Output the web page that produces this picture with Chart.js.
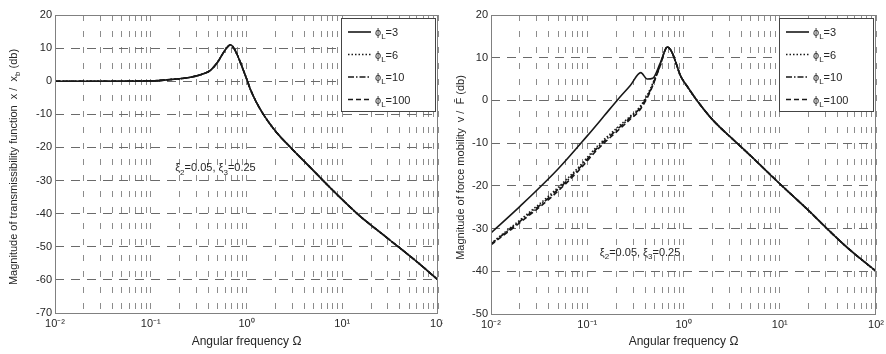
<!DOCTYPE html>
<html>
<head>
<meta charset="utf-8">
<script src="https://cdn.jsdelivr.net/npm/chart.js@4.4.1/dist/chart.umd.min.js"></script>
<style>
    html, body { margin: 0; padding: 0; background: #fff; }
    #wrap { position: relative; width: 886px; height: 354px; overflow: hidden; }
    canvas { position: absolute; top: 0; }
    #left_chart { left: 0; }
    #right_chart { left: 443px; }
</style>
</head>
<body>
<div id="wrap">
    <canvas id="left_chart" width="443" height="354"></canvas>
    <canvas id="right_chart" width="443" height="354"></canvas>
</div>
<script>
// ############################### DATA ###############################

var phiValues = [3, 6, 10, 100];

var decadeTicks = [0.01, 0.1, 1, 10, 100];
var decadeLabels = ['10\u207B\u00B2', '10\u207B\u00B9', '10\u2070', '10\u00B9', '10\u00B2'];

var transTicks = [20, 10, 0, -10, -20, -30, -40, -50, -60, -70];
var mobTicks = [20, 10, 0, -10, -20, -30, -40, -50];

// transmissibility: the four phi_L curves lie on top of each other
var transOmega = [0.01, 0.03, 0.1, 0.16, 0.26, 0.35, 0.42, 0.5, 0.57, 0.64, 0.68, 0.73, 0.8, 0.9, 1.0, 1.1, 1.25, 1.5, 2.0, 3.0, 5, 8, 15, 30, 60, 100];
var transDb = [0, 0, 0.1, 0.5, 1.2, 2.2, 3.3, 5.8, 8.5, 10.5, 11, 10.2, 8, 4.3, 0.8, -2.5, -6, -10, -15, -20.5, -27, -33, -40.5, -47.5, -54.5, -60];

// force mobility, low frequency side (one list per phi_L)
var mob3Omega = [0.01, 0.02, 0.05, 0.1, 0.15, 0.204, 0.28, 0.36, 0.42, 0.48, 0.57, 0.68];
var mob3Db = [-31, -24.8, -16, -8.3, -3.6, 0, 3.5, 6.5, 5, 5.2, 8.6, 12.5];

var mob6Omega = [0.01, 0.02, 0.044, 0.08, 0.13, 0.2, 0.28, 0.35, 0.45, 0.57, 0.68];
var mob6Db = [-33.5, -28, -21.5, -15.8, -10.5, -6.6, -3.7, -1.6, 2.6, 8.3, 12.5];
var mob10Db = [-33.6, -28.3, -21.9, -16.2, -10.9, -7.0, -4.0, -1.9, 2.3, 8.1, 12.5];
var mob100Db = [-33.8, -28.6, -22.3, -16.6, -11.3, -7.4, -4.4, -2.3, 2.0, 8.0, 12.5];

// force mobility, high frequency side (shared by all phi_L)
var mobHighOmega = [0.75, 0.85, 0.92, 1.1, 1.38, 2.0, 3.6, 5, 10, 20, 30, 50, 100];
var mobHighDb = [11.5, 8.3, 6, 3.2, 0, -4.5, -10, -13, -19.5, -25.8, -29.7, -34.4, -40];

var dampingNote = [['\u03BE', false], ['2', true], ['=0.05, \u03BE', false], ['3', true], ['=0.25', false]];
var transNoteAt = [0.18, -26];
var mobNoteAt = [0.135, -35.5];

// ############################### STYLE ###############################

var FONT = '"Liberation Sans", Arial, Helvetica, sans-serif';
var INK = '#181818';
var TEXT = '#262626';
var dashes = [[], [1.5, 2], [6, 2, 1.5, 2], [5, 3]];

function curve(omega, db) {
    var pts = [];
    for (var i = 0; i < omega.length; i++)
        pts.push({x: omega[i], y: db[i]});
    return pts;
}

// draw a string made of [text, isSubscript] pieces
function richWidth(ctx, parts, size) {
    var w = 0;
    for (var i = 0; i < parts.length; i++) {
        ctx.font = (parts[i][1] ? Math.round(size * 0.75) : size) + 'px ' + FONT;
        w += ctx.measureText(parts[i][0]).width;
    }
    return w;
}

function drawRich(ctx, parts, x, y, size) {
    var cx = x;
    ctx.textBaseline = 'alphabetic';
    ctx.textAlign = 'left';
    for (var i = 0; i < parts.length; i++) {
        var sub = parts[i][1];
        ctx.font = (sub ? Math.round(size * 0.75) : size) + 'px ' + FONT;
        ctx.fillText(parts[i][0], cx, y + (sub ? size * 0.3 : 0));
        cx += ctx.measureText(parts[i][0]).width;
    }
}

// ####################### PLUGIN: BOX, NOTE, LEGEND, Y TITLE #######################

var decorPlugin = {
    id: 'decor',
    afterDraw: function (chart, args, opts) {
        var ctx = chart.ctx;
        var area = chart.chartArea;
        ctx.save();

        // axes box
        ctx.strokeStyle = '#808080';
        ctx.lineWidth = 1;
        ctx.setLineDash([]);
        ctx.strokeRect(Math.round(area.left) + 0.5, Math.round(area.top) + 0.5,
            Math.round(area.right - area.left) - 1, Math.round(area.bottom - area.top));

        // damping note placed through the scales
        ctx.fillStyle = TEXT;
        var nx = chart.scales.x.getPixelForValue(opts.noteAt[0]);
        var ny = chart.scales.y.getPixelForValue(opts.noteAt[1]);
        drawRich(ctx, dampingNote, nx, ny + 4, 11);

        // rotated y title
        var parts = opts.title;
        var tw = richWidth(ctx, parts, 11);
        ctx.save();
        ctx.translate(opts.titleX, (area.top + area.bottom) / 2 + 3);
        ctx.rotate(-Math.PI / 2);
        drawRich(ctx, parts, -tw / 2, 4, 11);
        ctx.restore();

        // legend
        var bw = 94, bh = 93;
        var bx = Math.round(area.right) - 3 - bw;
        var by = Math.round(area.top) + 3;
        ctx.fillStyle = '#fff';
        ctx.fillRect(bx, by, bw, bh);
        ctx.strokeStyle = '#444';
        ctx.strokeRect(bx + 0.5, by + 0.5, bw, bh);

        var sets = chart.data.datasets;
        for (var i = 0; i < sets.length; i++) {
            var ly = by + 14 + i * 22.5;
            ctx.strokeStyle = sets[i].borderColor;
            ctx.lineWidth = sets[i].borderWidth;
            ctx.setLineDash(sets[i].borderDash);
            ctx.beginPath();
            ctx.moveTo(bx + 7, ly);
            ctx.lineTo(bx + 30, ly);
            ctx.stroke();
            ctx.setLineDash([]);
            ctx.fillStyle = TEXT;
            var rest = sets[i].label.substring(2);
            drawRich(ctx, [['\u03D5', false], ['L', true], [rest, false]], bx + 34, ly + 4, 11);
        }
        ctx.restore();
    }
};

// ############################### CHARTS ###############################

function makeOptions(p) {
    return {
        responsive: false,
        animation: false,
        layout: {padding: {left: 0, right: p.padRight, top: 15, bottom: 0}},
        elements: {point: {radius: 0}},
        plugins: {
            legend: {display: false},
            tooltip: {enabled: false},
            decor: {title: p.title, titleX: p.titleX, noteAt: p.noteAt}
        },
        scales: {
            x: {
                type: 'logarithmic',
                min: 0.01,
                max: 100,
                afterBuildTicks: function (scale) {
                    var t = [];
                    for (var i = 0; i < decadeTicks.length; i++) {
                        t.push({value: decadeTicks[i], major: true});
                        if (i < decadeTicks.length - 1)
                            for (var m = 2; m <= 9; m++)
                                t.push({value: decadeTicks[i] * m});
                    }
                    scale.ticks = t;
                },
                afterFit: function (scale) {
                    scale.height = p.xHeight;
                    scale.paddingLeft = 0;
                    scale.paddingRight = 0;
                },
                ticks: {
                    autoSkip: false,
                    maxRotation: 0,
                    padding: 4,
                    color: TEXT,
                    font: {family: FONT, size: 11},
                    callback: function (value) {
                        var k = decadeTicks.indexOf(value);
                        return k >= 0 ? decadeLabels[k] : '';
                    }
                },
                grid: {color: '#8c8c8c', lineWidth: 1, drawTicks: false},
                border: {display: false, dash: [6, 10]},
                title: {
                    display: true,
                    text: 'Angular frequency \u03A9',
                    color: TEXT,
                    font: {family: FONT, size: 12},
                    padding: {top: 0, bottom: 5}
                }
            },
            y: {
                type: 'linear',
                min: p.yTicks[p.yTicks.length - 1],
                max: p.yTicks[0],
                afterBuildTicks: function (scale) {
                    scale.ticks = p.yTicks.map(function (v) { return {value: v}; });
                },
                afterFit: function (scale) {
                    scale.width = p.yWidth;
                    scale.paddingTop = 0;
                    scale.paddingBottom = 0;
                },
                ticks: {
                    padding: 3,
                    color: TEXT,
                    font: {family: FONT, size: 11}
                },
                grid: {color: '#6a6a6a', lineWidth: 1, drawTicks: false},
                border: {display: false, dash: [9, 7]}
            }
        }
    };
}

function lineSet(i, data) {
    return {
        label: '\u03D5L=' + phiValues[i],
        data: data,
        borderColor: INK,
        borderWidth: 1.6,
        borderDash: dashes[i],
        fill: false,
        cubicInterpolationMode: 'monotone'
    };
}

var leftSets = [];
for (var i = 0; i < phiValues.length; i++)
    leftSets.push(lineSet(i, curve(transOmega, transDb)));

var mobLow = [
    curve(mob3Omega, mob3Db),
    curve(mob6Omega, mob6Db),
    curve(mob6Omega, mob10Db),
    curve(mob6Omega, mob100Db)
];
var rightSets = [];
for (var j = 0; j < phiValues.length; j++)
    rightSets.push(lineSet(j, mobLow[j].concat(curve(mobHighOmega, mobHighDb))));

new Chart(document.getElementById('left_chart'), {
    type: 'line',
    data: {datasets: leftSets},
    options: makeOptions({
        padRight: 5, yWidth: 55, xHeight: 41, yTicks: transTicks, titleX: 13, noteAt: transNoteAt,
        title: [['Magnitude of transmissibility function  x /  x', false], ['b', true], [' (db)', false]]
    }),
    plugins: [decorPlugin]
});

new Chart(document.getElementById('right_chart'), {
    type: 'line',
    data: {datasets: rightSets},
    options: makeOptions({
        padRight: 10, yWidth: 48, xHeight: 40, yTicks: mobTicks, titleX: 17, noteAt: mobNoteAt,
        title: [['Magnitude of force mobility  v /  F\u0304 (db)', false]]
    }),
    plugins: [decorPlugin]
});
</script>
</body>
</html>
